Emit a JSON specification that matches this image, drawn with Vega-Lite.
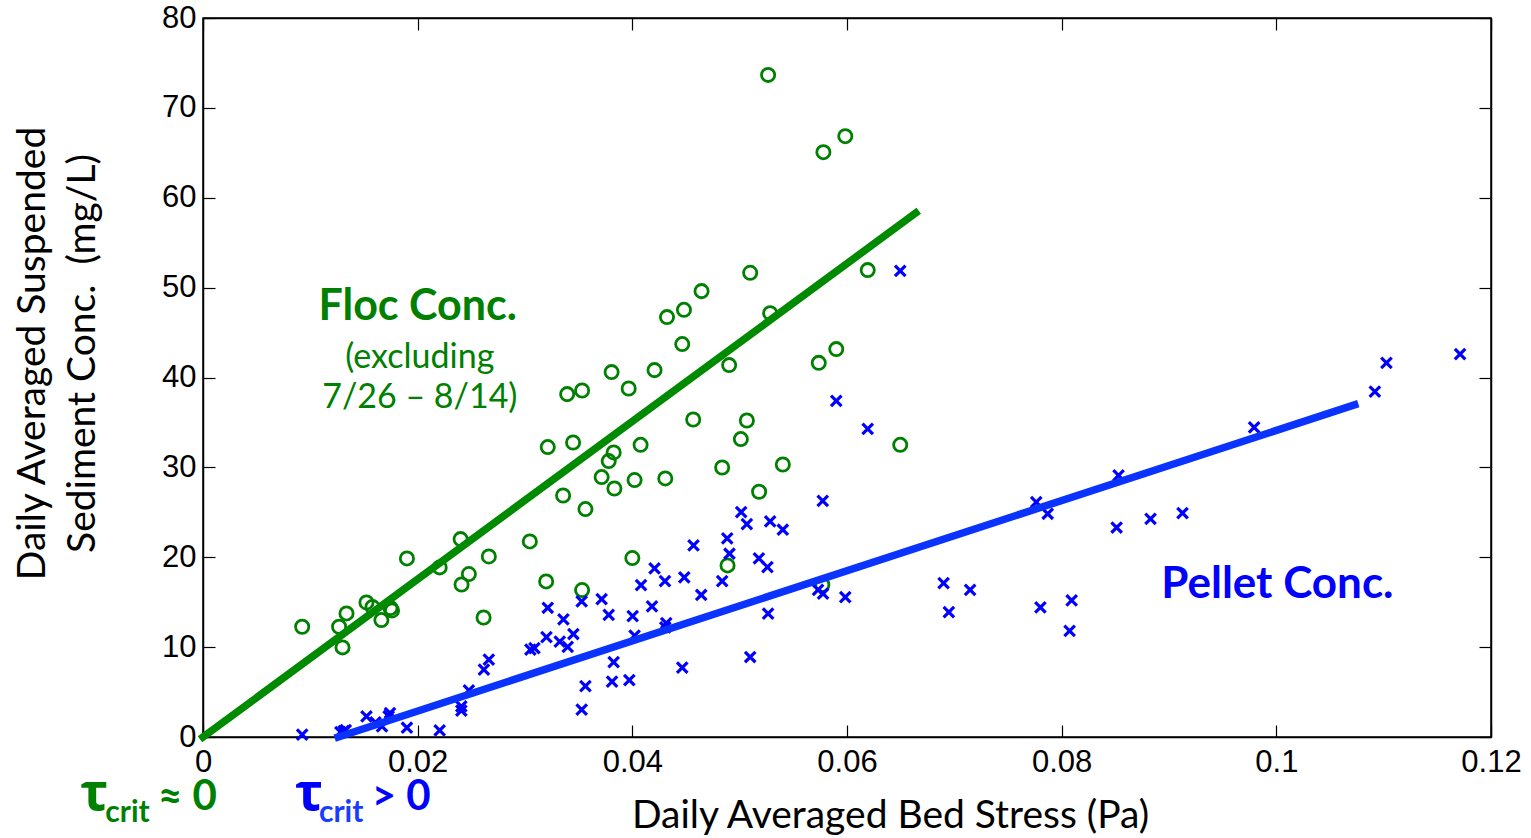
{
  "$schema": "https://vega.github.io/schema/vega-lite/v6.json",
  "width": 1288,
  "height": 719,
  "autosize": {"type": "none"},
  "padding": {"left": 203, "top": 18, "right": 40, "bottom": 101},
  "background": "white",
  "config": {
    "view": {"stroke": "black", "strokeWidth": 1.5},
    "axis": {
      "grid": false,
      "domainColor": "black",
      "domainWidth": 1.5,
      "tickColor": "black",
      "tickWidth": 1.2,
      "labelColor": "black",
      "labelFont": "Liberation Sans",
      "labelFontSize": 31,
      "labelFlush": false,
      "labelOverlap": false,
      "titleFont": "Lato",
      "titleFontWeight": "normal",
      "titleColor": "black",
      "titleFontSize": 39
    }
  },
  "datasets": {
    "floc": [
      {"x": 0.00924, "y": 12.27}, {"x": 0.01268, "y": 12.27}, {"x": 0.01337, "y": 13.75}, {"x": 0.0130, "y": 9.97},
      {"x": 0.01523, "y": 14.97}, {"x": 0.01579, "y": 14.46}, {"x": 0.01662, "y": 13.01}, {"x": 0.01746, "y": 14.35},
      {"x": 0.01761, "y": 14.08}, {"x": 0.0190, "y": 19.87}, {"x": 0.02205, "y": 18.87}, {"x": 0.0240, "y": 22.02},
      {"x": 0.02477, "y": 18.13}, {"x": 0.02409, "y": 16.97}, {"x": 0.02663, "y": 20.09}, {"x": 0.02614, "y": 13.30},
      {"x": 0.03045, "y": 21.76}, {"x": 0.03197, "y": 17.31}, {"x": 0.03532, "y": 16.35}, {"x": 0.0400, "y": 19.91},
      {"x": 0.04887, "y": 19.09}, {"x": 0.0577, "y": 16.94}, {"x": 0.03355, "y": 26.87}, {"x": 0.03563, "y": 25.36},
      {"x": 0.03833, "y": 27.65}, {"x": 0.03714, "y": 28.92}, {"x": 0.04021, "y": 28.59}, {"x": 0.04307, "y": 28.77},
      {"x": 0.0378, "y": 30.70}, {"x": 0.03826, "y": 31.66}, {"x": 0.03212, "y": 32.26}, {"x": 0.03448, "y": 32.77},
      {"x": 0.04077, "y": 32.51}, {"x": 0.04567, "y": 35.33}, {"x": 0.05067, "y": 35.22}, {"x": 0.05011, "y": 33.15},
      {"x": 0.04837, "y": 29.99}, {"x": 0.05181, "y": 27.29}, {"x": 0.05402, "y": 30.32}, {"x": 0.03393, "y": 38.15},
      {"x": 0.03532, "y": 38.55}, {"x": 0.03966, "y": 38.78}, {"x": 0.03807, "y": 40.60}, {"x": 0.04207, "y": 40.82},
      {"x": 0.04902, "y": 41.38}, {"x": 0.04465, "y": 43.72}, {"x": 0.04323, "y": 46.72}, {"x": 0.04481, "y": 47.53},
      {"x": 0.04645, "y": 49.61}, {"x": 0.05098, "y": 51.65}, {"x": 0.05284, "y": 47.16}, {"x": 0.0590, "y": 43.16},
      {"x": 0.05737, "y": 41.63}, {"x": 0.06496, "y": 32.51}, {"x": 0.06193, "y": 51.95}, {"x": 0.05265, "y": 73.67},
      {"x": 0.05984, "y": 66.85}, {"x": 0.0578, "y": 65.07}
    ],
    "pellet": [
      {"x": 0.00924, "y": 0.26}, {"x": 0.0128, "y": 0.53}, {"x": 0.0131, "y": 0.65}, {"x": 0.0133, "y": 0.76},
      {"x": 0.01523, "y": 2.29}, {"x": 0.01607, "y": 1.62}, {"x": 0.01668, "y": 1.18}, {"x": 0.01742, "y": 2.67},
      {"x": 0.0173, "y": 2.31}, {"x": 0.0190, "y": 1.03}, {"x": 0.02205, "y": 0.73}, {"x": 0.02407, "y": 2.93},
      {"x": 0.02407, "y": 3.40}, {"x": 0.02477, "y": 5.18}, {"x": 0.02617, "y": 7.49}, {"x": 0.02663, "y": 8.60},
      {"x": 0.0305, "y": 9.71}, {"x": 0.03088, "y": 9.90}, {"x": 0.03212, "y": 14.38}, {"x": 0.0320, "y": 11.12},
      {"x": 0.03358, "y": 13.08}, {"x": 0.03324, "y": 10.60}, {"x": 0.03398, "y": 10.04}, {"x": 0.03451, "y": 11.46},
      {"x": 0.03528, "y": 15.08}, {"x": 0.03714, "y": 15.35}, {"x": 0.0378, "y": 13.60}, {"x": 0.04003, "y": 13.46},
      {"x": 0.04183, "y": 14.53}, {"x": 0.04081, "y": 16.91}, {"x": 0.04304, "y": 17.35}, {"x": 0.04484, "y": 17.75},
      {"x": 0.04837, "y": 17.35}, {"x": 0.04642, "y": 15.80}, {"x": 0.04207, "y": 18.75}, {"x": 0.0457, "y": 21.31},
      {"x": 0.04884, "y": 22.09}, {"x": 0.04905, "y": 20.39}, {"x": 0.05179, "y": 19.87}, {"x": 0.05259, "y": 18.91},
      {"x": 0.05014, "y": 25.03}, {"x": 0.05067, "y": 23.69}, {"x": 0.05284, "y": 23.98}, {"x": 0.05402, "y": 23.06},
      {"x": 0.05774, "y": 26.28}, {"x": 0.04316, "y": 12.68}, {"x": 0.04307, "y": 12.21}, {"x": 0.04021, "y": 11.27},
      {"x": 0.05265, "y": 13.72}, {"x": 0.03826, "y": 8.34}, {"x": 0.03811, "y": 6.15}, {"x": 0.03972, "y": 6.34},
      {"x": 0.03563, "y": 5.67}, {"x": 0.03528, "y": 3.04}, {"x": 0.04465, "y": 7.71}, {"x": 0.05098, "y": 8.90},
      {"x": 0.0573, "y": 16.38}, {"x": 0.05777, "y": 15.94}, {"x": 0.05984, "y": 15.57}, {"x": 0.0590, "y": 37.41},
      {"x": 0.06193, "y": 34.29}, {"x": 0.06496, "y": 51.87}, {"x": 0.069, "y": 17.13}, {"x": 0.06949, "y": 13.90},
      {"x": 0.07147, "y": 16.38}, {"x": 0.07763, "y": 26.14}, {"x": 0.0787, "y": 24.84}, {"x": 0.07802, "y": 14.42},
      {"x": 0.08093, "y": 15.19}, {"x": 0.08074, "y": 11.82}, {"x": 0.08512, "y": 23.31}, {"x": 0.0853, "y": 29.10},
      {"x": 0.08828, "y": 24.28}, {"x": 0.09126, "y": 24.92}, {"x": 0.09793, "y": 34.44}, {"x": 0.10918, "y": 38.44},
      {"x": 0.11026, "y": 41.63}, {"x": 0.11712, "y": 42.60}
    ],
    "flocfit": [{"x": 0, "y": 0}, {"x": 0.0664, "y": 58.3}],
    "pelletfit": [{"x": 0.0126, "y": 0}, {"x": 0.1073, "y": 36.96}]
  },
  "layer": [
    {
      "data": {"name": "floc"},
      "mark": {"type": "point", "shape": "circle", "filled": false, "stroke": "#008000", "strokeWidth": 2.8, "size": 175, "opacity": 1},
      "encoding": {
        "x": {"field": "x", "type": "quantitative", "scale": {"domain": [0, 0.12], "nice": false, "zero": false},
          "axis": {"orient": "bottom", "values": [0, 0.02, 0.04, 0.06, 0.08, 0.1, 0.12], "labelExpr": "format(datum.value, '.2~f')", "tickSize": -12, "labelPadding": 22,
            "title": "Daily Averaged Bed Stress (Pa)", "titleX": 687, "titleY": 90, "titleBaseline": "alphabetic", "titleAlign": "center", "titleAnchor": null}},
        "y": {"field": "y", "type": "quantitative", "scale": {"domain": [0, 80], "nice": false, "zero": false},
          "axis": {"orient": "left", "values": [0, 10, 20, 30, 40, 50, 60, 70, 80], "tickSize": -12, "labelPadding": 19,
            "title": ["Daily Averaged Suspended", "Sediment Conc. \u00a0(mg/L)"], "titleX": -171, "titleY": 335, "titleAngle": -90,
            "titleBaseline": "middle", "titleAlign": "center", "titleLineHeight": 50, "titleAnchor": null}}
      }
    },
    {
      "data": {"name": "pellet"},
      "mark": {"type": "point", "shape": "M-1,-1L1,1M-1,1L1,-1", "filled": false, "stroke": "#0000ff", "strokeWidth": 3.2, "size": 110, "opacity": 1},
      "encoding": {
        "x": {"field": "x", "type": "quantitative", "scale": {"domain": [0, 0.12], "nice": false, "zero": false},
          "axis": {"orient": "top", "values": [0, 0.02, 0.04, 0.06, 0.08, 0.1, 0.12], "tickSize": -12, "labels": false, "title": null}},
        "y": {"field": "y", "type": "quantitative", "scale": {"domain": [0, 80], "nice": false, "zero": false},
          "axis": {"orient": "right", "values": [0, 10, 20, 30, 40, 50, 60, 70, 80], "tickSize": -12, "labels": false, "title": null}}
      }
    },
    {
      "data": {"name": "flocfit"},
      "mark": {"type": "line", "color": "#008a00", "strokeWidth": 7.5, "strokeCap": "square"},
      "encoding": {
        "x": {"field": "x", "type": "quantitative", "axis": null},
        "y": {"field": "y", "type": "quantitative", "axis": null}
      }
    },
    {
      "data": {"name": "pelletfit"},
      "mark": {"type": "line", "color": "#0a33ff", "strokeWidth": 7.5, "strokeCap": "square"},
      "encoding": {
        "x": {"field": "x", "type": "quantitative", "axis": null},
        "y": {"field": "y", "type": "quantitative", "axis": null}
      }
    },
    {
      "data": {"values": [{"x": 0.0200, "y": 46.42, "label": "Floc Conc."}]},
      "mark": {"type": "text", "font": "Lato", "fontWeight": "bold", "fontSize": 43, "color": "#008000", "align": "center", "baseline": "alphabetic"},
      "encoding": {
        "x": {"field": "x", "type": "quantitative", "axis": null},
        "y": {"field": "y", "type": "quantitative", "axis": null},
        "text": {"field": "label"}
      }
    },
    {
      "data": {"values": [{"x": 0.0202, "y": 41.1, "label": "(excluding"}, {"x": 0.0202, "y": 36.66, "label": "7/26 – 8/14)"}]},
      "mark": {"type": "text", "font": "Lato", "fontSize": 34, "color": "#008000", "align": "center", "baseline": "alphabetic"},
      "encoding": {
        "x": {"field": "x", "type": "quantitative", "axis": null},
        "y": {"field": "y", "type": "quantitative", "axis": null},
        "text": {"field": "label"}
      }
    },
    {
      "data": {"values": [{"x": 0.1001, "y": 15.5, "label": "Pellet Conc."}]},
      "mark": {"type": "text", "font": "Lato", "fontWeight": "bold", "fontSize": 44, "color": "#0000ff", "align": "center", "baseline": "alphabetic"},
      "encoding": {
        "x": {"field": "x", "type": "quantitative", "axis": null},
        "y": {"field": "y", "type": "quantitative", "axis": null},
        "text": {"field": "label"}
      }
    },
    {
      "data": {"values": [{"x": -0.01144, "y": -8.09, "label": "τ"}]},
      "mark": {"type": "text", "font": "Open Sans", "fontWeight": "bold", "fontSize": 52, "color": "#008000", "align": "left", "baseline": "alphabetic"},
      "encoding": {
        "x": {"field": "x", "type": "quantitative", "axis": null},
        "y": {"field": "y", "type": "quantitative", "axis": null},
        "text": {"field": "label"}
      }
    },
    {
      "data": {"values": [{"x": 0.00856, "y": -8.09, "label": "τ"}]},
      "mark": {"type": "text", "font": "Open Sans", "fontWeight": "bold", "fontSize": 52, "color": "#0000ff", "align": "left", "baseline": "alphabetic"},
      "encoding": {
        "x": {"field": "x", "type": "quantitative", "axis": null},
        "y": {"field": "y", "type": "quantitative", "axis": null},
        "text": {"field": "label"}
      }
    },
    {
      "data": {"values": [{"x": -0.0091, "y": -9.42, "label": "crit"}]},
      "mark": {"type": "text", "font": "Lato", "fontWeight": "bold", "fontSize": 30, "color": "#008000", "align": "left", "baseline": "alphabetic"},
      "encoding": {
        "x": {"field": "x", "type": "quantitative", "axis": null},
        "y": {"field": "y", "type": "quantitative", "axis": null},
        "text": {"field": "label"}
      }
    },
    {
      "data": {"values": [{"x": 0.0108, "y": -9.42, "label": "crit"}]},
      "mark": {"type": "text", "font": "Lato", "fontWeight": "bold", "fontSize": 30, "color": "#1a3cff", "align": "left", "baseline": "alphabetic"},
      "encoding": {
        "x": {"field": "x", "type": "quantitative", "axis": null},
        "y": {"field": "y", "type": "quantitative", "axis": null},
        "text": {"field": "label"}
      }
    },
    {
      "data": {"values": [{"x": -0.00419, "y": -8.09, "label": "≈ 0"}]},
      "mark": {"type": "text", "font": "Lato", "fontWeight": "bold", "fontSize": 42, "color": "#008000", "align": "left", "baseline": "alphabetic"},
      "encoding": {
        "x": {"field": "x", "type": "quantitative", "axis": null},
        "y": {"field": "y", "type": "quantitative", "axis": null},
        "text": {"field": "label"}
      }
    },
    {
      "data": {"values": [{"x": 0.01572, "y": -8.09, "label": "> 0"}]},
      "mark": {"type": "text", "font": "Lato", "fontWeight": "bold", "fontSize": 42, "color": "#0000ff", "align": "left", "baseline": "alphabetic"},
      "encoding": {
        "x": {"field": "x", "type": "quantitative", "axis": null},
        "y": {"field": "y", "type": "quantitative", "axis": null},
        "text": {"field": "label"}
      }
    }
  ],
  "resolve": {"axis": {"x": "independent", "y": "independent"}}
}
